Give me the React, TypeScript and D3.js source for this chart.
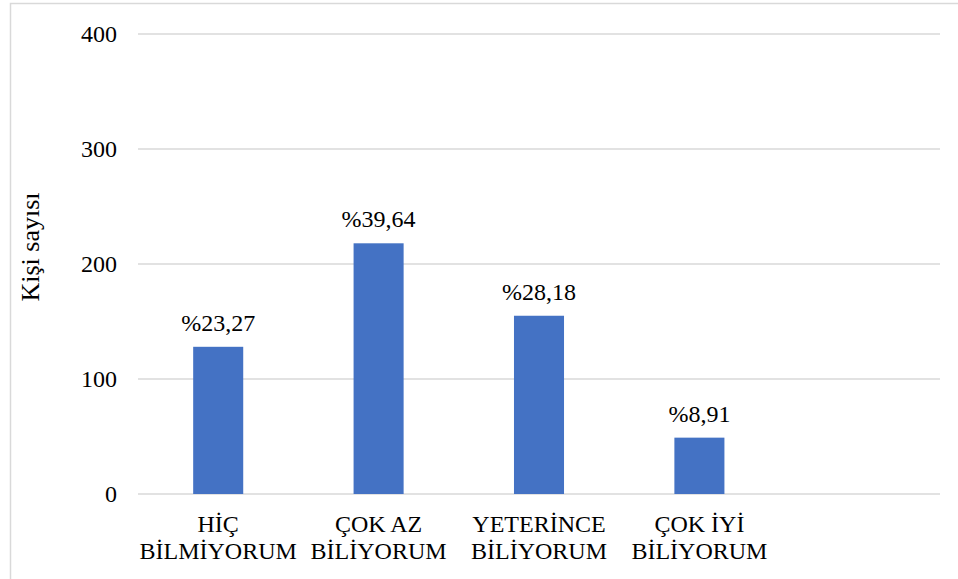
import React from "react";
import * as d3 from "d3";

// Survey responses: number of people per knowledge level
const categories = ["HİÇ BİLMİYORUM", "ÇOK AZ BİLİYORUM", "YETERİNCE BİLİYORUM", "ÇOK İYİ BİLİYORUM", ""];
const categoryLines = [
  ["HİÇ", "BİLMİYORUM"],
  ["ÇOK AZ", "BİLİYORUM"],
  ["YETERİNCE", "BİLİYORUM"],
  ["ÇOK İYİ", "BİLİYORUM"],
  [],
];
const counts = [128, 218, 155, 49];
const percentLabels = ["%23,27", "%39,64", "%28,18", "%8,91"];
const yTicks = [0, 100, 200, 300, 400];
const yTitle = "Kişi sayısı";

const W = 958;
const H = 579;
const FONT = '"Liberation Serif", "Times New Roman", Times, "DejaVu Serif", serif';

export default function App() {
  const x = d3
    .scaleBand<string>()
    .domain(categories)
    .range([138, 940])
    .paddingInner(0.688)
    .paddingOuter(0.344);
  const y = d3.scaleLinear().domain([0, 400]).range([494, 34]);
  const txt = { fontFamily: FONT };

  return (
    <svg
      width={W}
      height={H}
      style={{ position: "absolute", left: 0, top: 0, background: "#fff", fontFamily: FONT }}
    >
      {/* chart frame */}
      <rect x={10.5} y={3.5} width={W + 20} height={H + 20} fill="none" stroke="#d9d9d9" strokeWidth={1.5} />

      {/* gridlines */}
      {yTicks.map((t) => (
        <line key={t} x1={138} x2={940} y1={y(t)} y2={y(t)} stroke="#d9d9d9" strokeWidth={1.6} />
      ))}

      {/* y tick labels */}
      {yTicks.map((t) => (
        <text key={t} x={117} y={y(t)} dy="0.35em" textAnchor="end" fontSize={24} fill="#000" style={txt}>
          {t}
        </text>
      ))}

      {/* y axis title */}
      <text
        transform={`translate(39,247) rotate(-90)`}
        textAnchor="middle"
        fontSize={26}
        fill="#000"
        style={txt}
      >
        {yTitle}
      </text>

      {/* bars */}
      {counts.map((v, i) => (
        <rect
          key={i}
          x={x(categories[i])!}
          y={y(v)}
          width={x.bandwidth()}
          height={y(0) - y(v)}
          fill="#4472C4"
        />
      ))}

      {/* value labels */}
      {counts.map((v, i) => (
        <text
          key={i}
          x={x(categories[i])! + x.bandwidth() / 2}
          y={y(v) - 16}
          textAnchor="middle"
          fontSize={24}
          fill="#000"
          style={txt}
        >
          {percentLabels[i]}
        </text>
      ))}

      {/* category labels */}
      {categoryLines.map((lines, i) =>
        lines.map((ln, j) => (
          <text
            key={`${i}-${j}`}
            x={x(categories[i])! + x.bandwidth() / 2}
            y={532 + j * 26.5}
            textAnchor="middle"
            fontSize={24}
            fill="#000"
            style={txt}
          >
            {ln}
          </text>
        ))
      )}
    </svg>
  );
}
